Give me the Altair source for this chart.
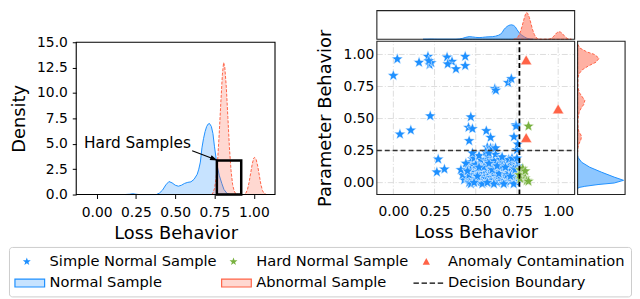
import math
import altair as alt
import pandas as pd

# ---------------- data ----------------
normal_loss = [0.18, 0.21, 0.23, 0.25, 0.27, 0.38, 0.40, 0.42, 0.44, 0.46, 0.48, 0.50, 0.52, 0.54, 0.56,
               0.58, 0.60, 0.62, 0.64, 0.65, 0.66, 0.67, 0.68, 0.69, 0.70, 0.71, 0.718, 0.73, 0.74, 0.75,
               0.765, 0.78, 0.797, 0.81, 0.83, 0.85]
normal_density = [0, 0.03, 0.08, 0.03, 0, 0, 0.15, 0.45, 0.95, 1.28, 1.15, 0.92, 0.82, 0.92, 1.1,
                  1.2, 1.25, 1.5, 2.0, 2.5, 3.2, 4.6, 5.5, 6.2, 6.7, 6.95, 7.0, 6.7, 6.0, 4.7,
                  3.0, 1.9, 1.07, 0.5, 0.1, 0]
abnormal_loss = [0.73, 0.74, 0.75, 0.76, 0.77, 0.78, 0.79, 0.80, 0.808, 0.815, 0.825, 0.835, 0.845, 0.855,
                 0.865, 0.875, 0.885, 0.90, 0.94, 0.95, 0.96, 0.97, 0.98, 0.99, 1.0, 1.005, 1.015, 1.025,
                 1.035, 1.045, 1.055, 1.065, 1.08]
abnormal_density = [0, 0.15, 0.6, 1.6, 3.4, 6.0, 9.0, 11.8, 13.0, 12.6, 10.6, 7.6, 4.6, 2.4,
                    1.0, 0.35, 0.08, 0, 0, 0.15, 0.5, 1.2, 2.1, 3.0, 3.6, 3.66, 3.45, 2.8,
                    1.9, 1.0, 0.4, 0.12, 0]

normal_param = [-0.05, -0.039, -0.029, -0.015, -0.003, 0.018, 0.043, 0.082, 0.12, 0.159, 0.197, 0.21]
normal_param_density = [0, 0.09, 0.94, 2.67, 4.78, 6.0, 4.78, 3.1, 1.59, 0.52, 0.05, 0]
abnormal_param = [0.24, 0.27, 0.30, 0.33, 0.355, 0.37, 0.40, 0.45, 0.50, 0.55, 0.58, 0.61, 0.64, 0.67,
                  0.70, 0.74, 0.78, 0.82, 0.85, 0.88, 0.91, 0.94, 0.97, 1.0, 1.02, 1.05, 1.08]
abnormal_param_density = [0, 0.03, 0.15, 0.4, 0.5, 0.45, 0.15, 0.02, 0.05, 0.2, 0.45, 0.8, 0.94, 0.6,
                          0.25, 0.05, 0.02, 0.05, 0.2, 0.6, 1.4, 2.4, 2.8, 2.2, 1.2, 0.3, 0]

simple_x = [0.024, 0.0, 0.156, 0.21, 0.22, 0.23, 0.215, 0.326, 0.356, 0.33, 0.38, 0.436, 0.436,
            0.616, 0.622, 0.696, 0.716, 0.224, 0.04, 0.106, 0.47, 0.456, 0.48, 0.46, 0.564, 0.59,
            0.57, 0.604, 0.744, 0.732, 0.75, 0.272, 0.264, 0.31, 0.48, 0.745, 0.755,
            0.43, 0.44, 0.45, 0.45, 0.46, 0.47, 0.47, 0.48, 0.48, 0.49, 0.49, 0.50, 0.50, 0.51, 0.51,
            0.52, 0.52, 0.53, 0.53, 0.54, 0.54, 0.55, 0.55, 0.55, 0.56, 0.56, 0.57, 0.57, 0.58, 0.58,
            0.58, 0.59, 0.59, 0.60, 0.60, 0.60, 0.61, 0.61, 0.62, 0.62, 0.63, 0.63, 0.63, 0.64, 0.64,
            0.65, 0.65, 0.66, 0.66, 0.67, 0.67, 0.68, 0.68, 0.68, 0.69, 0.69, 0.70, 0.70, 0.71, 0.71,
            0.72, 0.72, 0.73, 0.73, 0.74, 0.74, 0.75, 0.75, 0.76, 0.76, 0.46, 0.50, 0.53, 0.57, 0.61,
            0.62, 0.65, 0.70, 0.74, 0.52, 0.56, 0.59, 0.58, 0.62, 0.66, 0.72, 0.75, 0.48, 0.44, 0.42,
            0.41, 0.47, 0.54, 0.61, 0.67, 0.73, 0.51, 0.57, 0.64, 0.69, 0.45, 0.55, 0.60, 0.66, 0.71,
            0.49, 0.52, 0.58, 0.63, 0.68, 0.74]
simple_y = [0.964, 0.835, 0.938, 0.984, 0.92, 0.935, 0.95, 0.979, 0.945, 0.925, 0.887, 0.984, 0.912,
            0.733, 0.72, 0.78, 0.81, 0.52, 0.378, 0.409, 0.512, 0.43, 0.42, 0.326, 0.404, 0.352,
            0.275, 0.262, 0.45, 0.357, 0.255, 0.183, 0.082, 0.105, 0.185, 0.44, 0.30,
            0.02, 0.08, 0.12, 0.04, 0.00, 0.10, 0.16, 0.06, 0.02, 0.13, 0.19, 0.08, 0.03, 0.11, 0.00,
            0.06, 0.15, 0.02, 0.09, 0.12, 0.04, 0.00, 0.07, 0.17, 0.10, 0.03, 0.13, 0.05, 0.01, 0.08,
            0.19, 0.11, 0.04, 0.00, 0.07, 0.14, 0.02, 0.09, 0.12, 0.05, 0.00, 0.08, 0.17, 0.03, 0.11,
            0.06, 0.14, 0.01, 0.09, 0.04, 0.12, 0.07, 0.00, 0.16, 0.10, 0.03, 0.06, 0.13, 0.01, 0.09,
            0.04, 0.15, 0.07, 0.11, 0.02, 0.05, 0.09, 0.00, 0.04, 0.13, 0.06, 0.14, 0.18, 0.21, 0.17,
            0.22, 0.18, 0.18, 0.17, 0.21, 0.24, 0.27, 0.23, 0.27, 0.20, 0.19, 0.19, 0.23, 0.15, 0.06,
            0.10, -0.01, -0.01, -0.01, -0.01, -0.01, 0.05, 0.00, 0.07, 0.06, 0.09, 0.12, 0.10, 0.13, 0.05,
            0.00, 0.12, 0.15, 0.13, 0.12, 0.10]
hard_x = [0.82, 0.77, 0.78, 0.79, 0.80, 0.81, 0.82, 0.77, 0.785, 0.765, 0.80]
hard_y = [0.44, 0.10, 0.08, 0.06, 0.035, 0.015, 0.01, 0.03, 0.11, 0.06, 0.09]
anomaly_x = [0.806, 1.0, 0.806]
anomaly_y = [0.958, 0.575, 0.352]

decision_loss = 0.765
decision_param = 0.25

box_x, box_x2, box_y, box_y2 = 0.765, 0.92, 0.0, 3.35
arrow_x = [0.608, 0.742]
arrow_y = [4.31, 3.53]
note_x, note_y, note_text = 0.26, 5.12, "Hard Samples"

loss_ticks = [0, 0.25, 0.5, 0.75, 1.0]
density_ticks = [0, 2.5, 5.0, 7.5, 10.0, 12.5, 15.0]
param_ticks = [0, 0.25, 0.5, 0.75, 1.0]

# legend entries in the order the legend fills its columns
legend_labels = ["Simple Normal Sample", "Normal Sample", "Hard Normal Sample",
                 "Abnormal Sample", "Anomaly Contamination", "Decision Boundary"]

# axis domains
left_loss_dom = [-0.13, 1.135]
left_dens_dom = [0, 15]
loss_dom = [-0.1, 1.1]
param_dom = [-0.093, 1.103]
top_dens_dom = [0, 13.9]
right_dens_dom = [0, 6.2]

# ---------------- layout (pixels inside the plot group) ----------------
W, H = 555, 186
LEFT_X, LEFT_Y = [0, 201], [186, 32]
SC_X, SC_Y = [304, 504], [186, 31]
TOP_Y = [29, 0]
RM_X = [507, 555]

# ---------------- style ----------------
FONT = "DejaVu Sans"
BLUE = "#1E90FF"
RED = "#FF6347"
GREEN = "#78B13F"
BLUE_FILL = "#c7e3ff"
RED_FILL = "#ffd8d1"

XL = alt.Scale(domain=left_loss_dom, range=LEFT_X, nice=False, zero=False)
YL = alt.Scale(domain=left_dens_dom, range=LEFT_Y, nice=False, zero=False)
XS = alt.Scale(domain=loss_dom, range=SC_X, nice=False, zero=False)
YS = alt.Scale(domain=param_dom, range=SC_Y, nice=False, zero=False)
YT = alt.Scale(domain=top_dens_dom, range=TOP_Y, nice=False, zero=False)
XR = alt.Scale(domain=right_dens_dom, range=RM_X, nice=False, zero=False)


def ax(**kw):
    base = dict(labelFont=FONT, titleFont=FONT, labelFontSize=14, titleFontSize=18,
                titleFontWeight="normal", labelColor="black", titleColor="black", domain=False)
    base.update(kw)
    return alt.Axis(**base)


def X(f, s, axis=None):
    return alt.X(f, scale=s, axis=axis)


def Y(f, s, axis=None):
    return alt.Y(f, scale=s, axis=axis)


def star_path(cx, R, r):
    pts = []
    for k in range(10):
        a = math.radians(-90 + 36 * k)
        rad = R if k % 2 == 0 else r
        pts.append((cx + rad * math.cos(a), rad * math.sin(a)))
    return "M" + "L".join(f"{x:.3f},{y:.3f}" for x, y in pts) + "Z"


def head_path(deg):
    t = math.radians(deg)
    pts = [(1, 0), (-0.6, -0.55), (-0.6, 0.55)]
    rot = [(x * math.cos(t) - y * math.sin(t), x * math.sin(t) + y * math.cos(t)) for x, y in pts]
    return "M" + "L".join(f"{x:.3f},{y:.3f}" for x, y in rot) + "Z"


STAR = star_path(0, 1.0, 0.42)
# legend glyphs (unit = 7.5 px for symbolSize 225)
leg_star = star_path(0.47, 0.56, 0.23)
leg_tri = "M0.6,-0.5L1.09,0.43L0.11,0.43Z"
leg_rect = "M-1.13,-0.53H2.87V0.53H-1.13Z"
leg_dash = "M-1.13,0H-0.4M-0.04,0H0.69M1.05,0H1.78M2.14,0H2.87"
shape_of = {"Simple Normal Sample": leg_star, "Hard Normal Sample": leg_star,
            "Anomaly Contamination": leg_tri, "Normal Sample": leg_rect,
            "Abnormal Sample": leg_rect, "Decision Boundary": leg_dash}
fill_of = {"Simple Normal Sample": BLUE, "Hard Normal Sample": GREEN, "Anomaly Contamination": RED,
           "Normal Sample": BLUE_FILL, "Abnormal Sample": RED_FILL, "Decision Boundary": "#ffffff00"}
stroke_of = {"Simple Normal Sample": "#ffffff00", "Hard Normal Sample": "#ffffff00",
             "Anomaly Contamination": "#ffffff00", "Normal Sample": BLUE,
             "Abnormal Sample": RED, "Decision Boundary": "#000000"}
legend_shapes = [shape_of[k] for k in legend_labels]
legend_fills = [fill_of[k] for k in legend_labels]
legend_strokes = [stroke_of[k] for k in legend_labels]

grid_style = dict(color="#d9d9d9", strokeDash=[6, 2, 1, 2], strokeWidth=0.9)


def frame(xdom, ydom, xs, ys, color):
    df = pd.DataFrame({"x": [xdom[0]], "x2": [xdom[1]], "y": [ydom[0]], "y2": [ydom[1]]})
    return alt.Chart(df).mark_rect(fillOpacity=0, stroke=color, strokeWidth=1.1).encode(
        x=X("x:Q", xs), x2="x2:Q", y=Y("y:Q", ys), y2="y2:Q")


# ---------------- left panel ----------------
df_n = pd.DataFrame({"x": normal_loss, "y": normal_density})
df_a = pd.DataFrame({"x": abnormal_loss, "y": abnormal_density})

left_x_axis = ax(orient="bottom", values=loss_ticks, format=".2f", title="Loss Behavior", tickSize=4,
                 tickColor="black", labelPadding=7, titlePadding=5, grid=False)
left_y_axis = ax(orient="left", values=density_ticks, format=".1f", title="Density", tickSize=4,
                 tickColor="black", labelPadding=5, titlePadding=8, grid=False)

layers = []
layers.append(alt.Chart(df_n).mark_area(fill=BLUE, fillOpacity=0.25, stroke=BLUE, strokeWidth=1).encode(
    x=X("x:Q", XL, left_x_axis), y=Y("y:Q", YL, left_y_axis)))
layers.append(alt.Chart(df_a).mark_area(fill=RED, fillOpacity=0.25, stroke=RED, strokeWidth=1,
                                        strokeDash=[3, 1.5]).encode(x=X("x:Q", XL), y=Y("y:Q", YL)))
layers.append(alt.Chart(pd.DataFrame({"x": [box_x], "x2": [box_x2], "y": [box_y], "y2": [box_y2]}))
              .mark_rect(fillOpacity=0, stroke="black", strokeWidth=2.5)
              .encode(x=X("x:Q", XL), x2="x2:Q", y=Y("y:Q", YL), y2="y2:Q"))
layers.append(alt.Chart(pd.DataFrame({"x": arrow_x, "y": arrow_y})).mark_line(
    color="black", strokeWidth=1.2).encode(x=X("x:Q", XL), y=Y("y:Q", YL)))
layers.append(alt.Chart(pd.DataFrame({"x": arrow_x[-1:], "y": arrow_y[-1:]})).mark_point(
    shape=head_path(21), filled=True, color="black", size=90, opacity=1).encode(
    x=X("x:Q", XL), y=Y("y:Q", YL)))
layers.append(alt.Chart(pd.DataFrame({"x": [note_x], "y": [note_y], "t": [note_text]})).mark_text(
    font=FONT, fontSize=15.5, color="black", align="center", baseline="middle").encode(
    x=X("x:Q", XL), y=Y("y:Q", YL), text="t:N"))
layers.append(frame(left_loss_dom, left_dens_dom, XL, YL, "black"))

# ---------------- scatter ----------------
sc_x_axis = ax(orient="bottom", values=loss_ticks, format=".2f", title="Loss Behavior", ticks=False,
               labelPadding=10, titlePadding=5, grid=False)
sc_y_axis = ax(orient="left", offset=-SC_X[0], values=param_ticks, format=".2f",
               title="Parameter Behavior", ticks=False, labelPadding=3, titlePadding=9, grid=False)

gv = pd.DataFrame({"x": loss_ticks, "y": [param_dom[0]] * len(loss_ticks),
                   "y2": [param_dom[1]] * len(loss_ticks)})
gh = pd.DataFrame({"y": param_ticks, "x": [loss_dom[0]] * len(param_ticks),
                   "x2": [loss_dom[1]] * len(param_ticks)})
layers.append(alt.Chart(gv).mark_rule(**grid_style).encode(x=X("x:Q", XS), y=Y("y:Q", YS), y2="y2:Q"))
layers.append(alt.Chart(gh).mark_rule(**grid_style).encode(y=Y("y:Q", YS), x=X("x:Q", XS), x2="x2:Q"))
layers.append(alt.Chart(pd.DataFrame({"x": simple_x, "y": simple_y})).mark_point(
    shape=STAR, filled=True, fill=BLUE, stroke="white", strokeWidth=0.5, size=145, opacity=1).encode(
    x=X("x:Q", XS, sc_x_axis), y=Y("y:Q", YS, sc_y_axis)))
layers.append(alt.Chart(pd.DataFrame({"x": hard_x, "y": hard_y})).mark_point(
    shape=STAR, filled=True, fill=GREEN, stroke="white", strokeWidth=0.5, size=145, opacity=1).encode(
    x=X("x:Q", XS), y=Y("y:Q", YS)))
layers.append(alt.Chart(pd.DataFrame({"x": anomaly_x, "y": anomaly_y})).mark_point(
    shape="triangle-up", filled=True, fill=RED, stroke="white", strokeWidth=0.5, size=130, opacity=1).encode(
    x=X("x:Q", XS), y=Y("y:Q", YS)))
layers.append(alt.Chart(pd.DataFrame({"x": [decision_loss], "y": [param_dom[0]], "y2": [param_dom[1]]}))
              .mark_rule(color="black", strokeDash=[5, 3], strokeWidth=1.8)
              .encode(x=X("x:Q", XS), y=Y("y:Q", YS), y2="y2:Q"))
layers.append(alt.Chart(pd.DataFrame({"y": [decision_param], "x": [loss_dom[0]], "x2": [loss_dom[1]]}))
              .mark_rule(color="#333333", strokeDash=[5, 3], strokeWidth=1.5)
              .encode(y=Y("y:Q", YS), x=X("x:Q", XS), x2="x2:Q"))
layers.append(frame(loss_dom, param_dom, XS, YS, "#222222"))

# ---------------- marginals ----------------
layers.append(alt.Chart(df_n).mark_area(fill=BLUE, fillOpacity=0.5, stroke=BLUE, strokeWidth=1).encode(
    x=X("x:Q", XS), y=Y("y:Q", YT)))
layers.append(alt.Chart(df_a).mark_area(fill=RED, fillOpacity=0.5, stroke=RED, strokeWidth=1,
                                        strokeDash=[3, 1.5]).encode(x=X("x:Q", XS), y=Y("y:Q", YT)))
layers.append(frame(loss_dom, top_dens_dom, XS, YT, "#222222"))

df_pn = pd.DataFrame({"p": normal_param, "d": normal_param_density})
df_pa = pd.DataFrame({"p": abnormal_param, "d": abnormal_param_density})
layers.append(alt.Chart(df_pn).mark_area(orient="horizontal", fill=BLUE, fillOpacity=0.5, stroke=BLUE,
                                         strokeWidth=1).encode(x=X("d:Q", XR), y=Y("p:Q", YS)))
layers.append(alt.Chart(df_pa).mark_area(orient="horizontal", fill=RED, fillOpacity=0.5, stroke=RED,
                                         strokeWidth=1, strokeDash=[3, 1.5]).encode(
    x=X("d:Q", XR), y=Y("p:Q", YS)))
layers.append(frame(right_dens_dom, param_dom, XR, YS, "#222222"))

# ---------------- legend ----------------
leg = alt.Legend(
    title=None, orient="none", legendX=-68, legendY=239, columns=3, symbolSize=225,
    labelFont=FONT, labelFontSize=14.8, labelColor="black", labelLimit=400, labelOffset=18,
    columnPadding=2, rowPadding=6, padding=6, strokeColor="#cccccc",
    cornerRadius=3, symbolOpacity=1, symbolStrokeWidth=1.2)
layers.append(alt.Chart(pd.DataFrame({"label": legend_labels})).mark_point(
    filled=True, opacity=1, size=0).encode(
    fill=alt.Fill("label:N", scale=alt.Scale(domain=legend_labels, range=legend_fills), legend=leg),
    stroke=alt.Stroke("label:N", scale=alt.Scale(domain=legend_labels, range=legend_strokes), legend=leg),
    shape=alt.Shape("label:N", scale=alt.Scale(domain=legend_labels, range=legend_shapes), legend=leg)))

chart = alt.layer(*layers).resolve_scale(x="independent", y="independent").properties(
    width=W, height=H, padding={"left": 0, "top": 0, "right": 0, "bottom": 0}
).configure_view(stroke=None)

chart.save("out.html", embed_options={"renderer": "svg", "actions": False})
